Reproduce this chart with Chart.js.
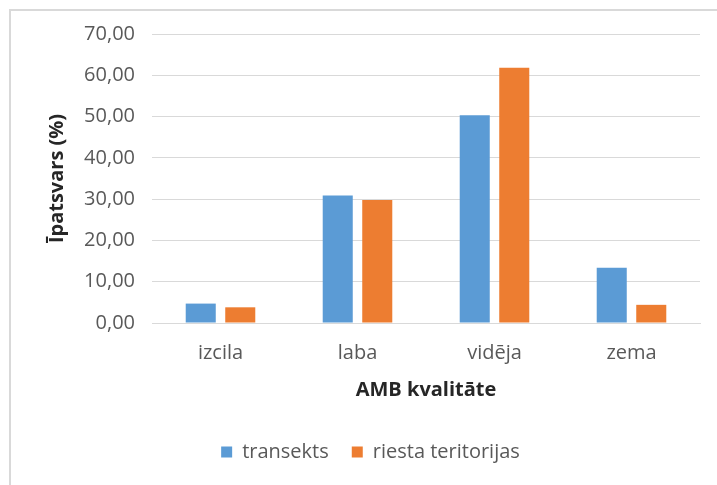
<!DOCTYPE html>
<html>
<head>
<meta charset="utf-8">
<script src="https://cdn.jsdelivr.net/npm/chart.js@4"></script>
<style>
  html, body { margin: 0; padding: 0; background: #fff; }
  #wrap { position: relative; width: 717px; height: 485px; overflow: hidden; }
  #frame { position: absolute; left: 9px; top: 9px; width: 760px; height: 520px; border: 2px solid #d9d9d9; box-sizing: border-box; }
  canvas { position: absolute; left: 0; top: 0; }
</style>
</head>
<body>
<div id="wrap">
  <div id="frame"></div>
  <canvas id="chart" width="717" height="485"></canvas>
</div>
<script>
// categories and series
const categories = ["izcila", "laba", "vidēja", "zema"];
const transekts = [4.7, 30.9, 50.3, 13.4];
const riesta = [3.8, 29.8, 61.8, 4.4];
const seriesNames = ["transekts", "riesta teritorijas"];
const yTicks = [0, 10, 20, 30, 40, 50, 60, 70];

const FONT = "'Open Sans', sans-serif";
const TXT = "#595959";

new Chart(document.getElementById("chart"), {
  type: "bar",
  data: {
    labels: categories,
    datasets: [
      { label: seriesNames[0], data: transekts, backgroundColor: "#5B9BD5" },
      { label: seriesNames[1], data: riesta, backgroundColor: "#ED7D31" }
    ]
  },
  options: {
    responsive: false,
    animation: false,
    devicePixelRatio: 1,
    categoryPercentage: 0.577,
    barPercentage: 0.76,
    layout: { padding: { left: 41, right: 17, top: 34, bottom: 13 } },
    plugins: {
      tooltip: { enabled: false },
      legend: {
        position: "bottom",
        labels: {
          color: TXT,
          font: { family: FONT, size: 20 },
          boxWidth: 11,
          boxHeight: 11,
          padding: 23
        }
      }
    },
    scales: {
      x: {
        grid: { display: false },
        border: { display: true, color: "#d9d9d9", width: 1 },
        ticks: { color: TXT, font: { family: FONT, size: 20 }, padding: 10 },
        title: {
          display: true,
          text: "AMB kvalitāte",
          color: "#262626",
          font: { family: FONT, size: 20, weight: "bold" },
          padding: { top: 4, bottom: 17 }
        },
        afterFit: s => { s.height = 96; }
      },
      y: {
        min: 0,
        max: 70,
        afterBuildTicks: s => { s.ticks = yTicks.map(v => ({ value: v })); },
        grid: { color: "#d9d9d9", lineWidth: 1, drawTicks: false },
        border: { display: false },
        ticks: {
          color: TXT,
          font: { family: FONT, size: 20 },
          padding: 17,
          callback: v => v.toFixed(2).replace(".", ",")
        },
        title: {
          display: true,
          text: "Īpatsvars (%)",
          color: "#262626",
          font: { family: FONT, size: 20, weight: "bold" },
          padding: { top: 4, bottom: 4 }
        },
        afterFit: s => { s.width = 111; }
      }
    }
  }
});
</script>
</body>
</html>
